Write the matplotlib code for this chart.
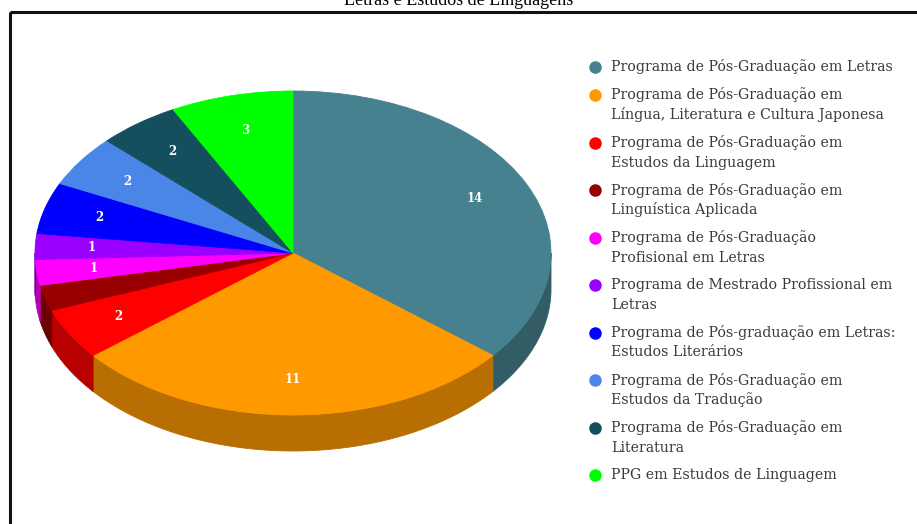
import numpy as np
import matplotlib
matplotlib.use("Agg")
import matplotlib.pyplot as plt
from matplotlib.patches import Polygon, Rectangle
from matplotlib.colors import to_rgb

title = "Letras e Estudos de Linguagens"
labels = [
    "Programa de Pós-Graduação em Letras",
    "Programa de Pós-Graduação em\nLíngua, Literatura e Cultura Japonesa",
    "Programa de Pós-Graduação em\nEstudos da Linguagem",
    "Programa de Pós-Graduação em\nLinguística Aplicada",
    "Programa de Pós-Graduação\nProfisional em Letras",
    "Programa de Mestrado Profissional em\nLetras",
    "Programa de Pós-graduação em Letras:\nEstudos Literários",
    "Programa de Pós-Graduação em\nEstudos da Tradução",
    "Programa de Pós-Graduação em\nLiteratura",
    "PPG em Estudos de Linguagem",
]
values = [14, 11, 2, 1, 1, 1, 2, 2, 2, 3]
colors = ["#45818e", "#ff9900", "#ff0000", "#980000", "#ff00ff",
          "#9900ff", "#0000ff", "#4a86e8", "#134f5c", "#00ff00"]
hidden_label = [False, False, False, True, False, False, False, False, False, False]

W, H = 917, 524
fig = plt.figure(figsize=(W / 100, H / 100), dpi=100)

# background axes in pixel coordinates (for the border)
bg = fig.add_axes([0, 0, 1, 1])
bg.set_xlim(0, W)
bg.set_ylim(H, 0)
bg.axis("off")
bg.add_patch(Rectangle((9.5, 11.5), W + 20, H + 20, fill=False, lw=2.2, ec="#111111"))

fig.text(0.5, 1 - 5 / H, title, ha="center", va="baseline",
         family="Liberation Serif", fontsize=13, color="black")

# pie geometry (pixels)
cx, cy, rx, ry, depth = 293, 253, 258, 162, 36
ax = fig.add_axes([0, 0, 1, 1])
ax.patch.set_alpha(0)

total = sum(values)
wedges, texts, autotexts = ax.pie(
    values, colors=colors, startangle=90, counterclock=False, radius=1,
    autopct=lambda p: f"{int(round(p * total / 100))}", pctdistance=0.78,
    wedgeprops=dict(linewidth=0.6),
    textprops=dict(color="white", fontsize=8.5, family="DejaVu Serif", weight="bold"))
for w in wedges:
    w.set_edgecolor(w.get_facecolor())
    w.set_zorder(3)
for t, h in zip(autotexts, hidden_label):
    t.set_zorder(4)
    if h:
        t.set_visible(False)

# side faces (front half)
d = depth / ry
cum = np.concatenate([[0], np.cumsum(values)]) / total * 360
for i, c in enumerate(colors):
    a, b = max(cum[i], 90), min(cum[i + 1], 270)
    if b <= a:
        continue
    t = np.radians(np.linspace(a, b, 80))
    xs, ys = np.sin(t), np.cos(t)
    pts = np.vstack([np.column_stack([xs, ys]), np.column_stack([xs[::-1], ys[::-1] - d])])
    sc = tuple(np.array(to_rgb(c)) * 0.72)
    ax.add_patch(Polygon(pts, closed=True, fc=sc, ec=sc, lw=0.6, zorder=2))

ax.set_aspect("auto")
ax.set_xlim(-cx / rx, (W - cx) / rx)
ax.set_ylim(-(H - cy) / ry, cy / ry)
ax.axis("off")

# legend (manual layout)
lx_marker, lx_text = 595, 611
y = 67
pitch, gap = 19.5, 8.5
for lab, c in zip(labels, colors):
    lines = lab.split("\n")
    bg.plot([lx_marker], [y], marker="o", ms=8, color=c, mec=c, ls="")
    for k, line in enumerate(lines):
        bg.text(lx_text, y + k * pitch + 4.5, line, ha="left", va="baseline",
                family="DejaVu Serif", fontsize=10.2, color="#3a3a3a")
    y += len(lines) * pitch + gap

fig.savefig("out.png", dpi=100)
